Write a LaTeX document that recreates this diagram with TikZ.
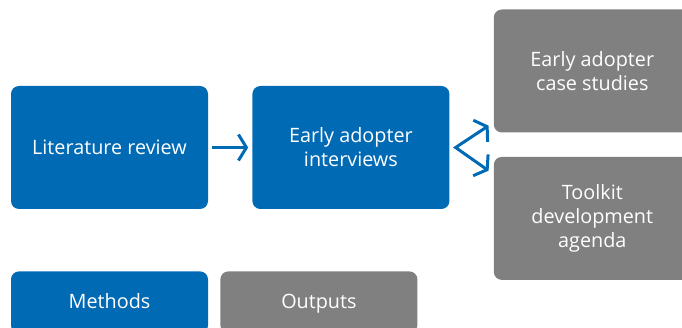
\documentclass[tikz,border=0pt]{standalone}
\usepackage{fontspec}
\setmainfont{Open Sans}
\usetikzlibrary{positioning, arrows.meta}
\definecolor{methodblue}{HTML}{006AB4}
\definecolor{outputgray}{HTML}{808080}
\tikzset{
    barb/.tip={Straight Barb[length=8pt, width=26pt]}, % open chevron tip
    box/.style={rounded corners=8pt, minimum width=197pt, minimum height=123pt, inner sep=0pt, text=white, align=center, font=\fontsize{19.8}{24}\selectfont}, % common look of all boxes
    method/.style={box, fill=methodblue},
    output/.style={box, fill=outputgray},
    key/.style={minimum height=62pt, text height=16pt, text depth=4pt}, % legend boxes at the bottom
    flow/.style={draw=methodblue, line width=3pt},
    }
\begin{document}
\begin{tikzpicture}[x=1pt, y=-1pt]

\path[use as bounding box, clip] (0,0) rectangle (682,328);

\node[method] (lit) at (109.5,147.5) {Literature review};
\node[method, right=44pt of lit] (int) {Early adopter\\interviews};
\node[output, right=44pt of int, yshift=76.5pt] (cs) {Early adopter\\case studies};
\node[output, below=24pt of cs] (tk) {Toolkit\\development\\agenda};
\node[method, key, below=62pt of lit] (meth) {Methods};
\node[output, key, right=12pt of meth] (outp) {Outputs};
\coordinate[right=6pt of int] (fork);

\draw[flow, -barb, shorten <=4pt, shorten >=4pt] (lit) -- (int);
\draw[flow, barb-barb] ([shift={(-5,-7)}]cs.south west) -- (fork) -- ([shift={(-5,14)}]tk.north west);

\end{tikzpicture}
\end{document}
